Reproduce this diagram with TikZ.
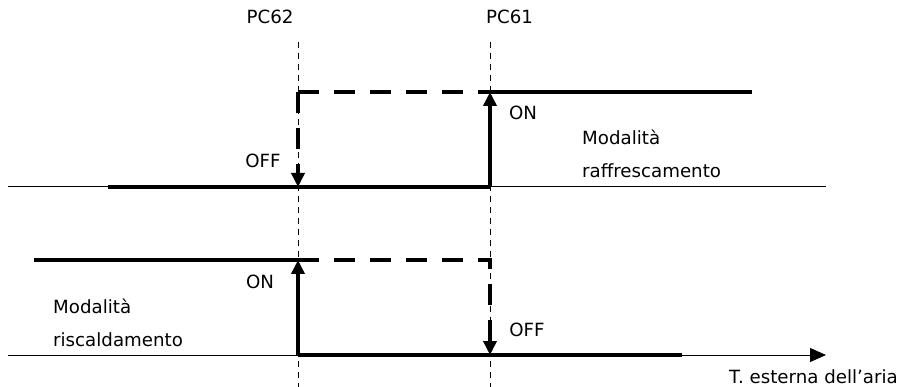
\documentclass[tikz,border=0pt]{standalone}
\usepackage{fontspec}
\setmainfont{DejaVu Sans}
\usetikzlibrary{arrows.meta}

\begin{document}
\begin{tikzpicture}
	[x=1pt,y=-1pt,every node/.style={inner sep=0pt,font=\fontsize{18.2}{21}\selectfont},
	 axisline/.style={line width=1pt,color=black},
	 stateline/.style={line width=4pt,color=black},
	 guideline/.style={line width=1pt,color=black,dash pattern=on 6pt off 5pt},
	 switchline/.style={line width=4pt,color=black,dash pattern=on 21pt off 15pt},
	 uptip/.style={-{Triangle[length=14pt,width=13pt]}},
	 axistip/.style={-{Triangle[length=16pt,width=14pt]}}]
	\useasboundingbox (0,0) rectangle (902,387);
	% soglie
	\node (pc62) at (270,17) {PC62};
	\node (pc61) [anchor=west] at (486,17) {PC61};
	\coordinate (g62a) at (298,42);
	\coordinate (g62b) at (298,387);
	\coordinate (g61a) at (490,42);
	\coordinate (g61b) at (490,387);
	\draw [guideline] (g62a) to (g62b);
	\draw [guideline] (g61a) to (g61b);
	% raffrescamento
	\coordinate (ua) at (8,187);
	\coordinate (ub) at (826,187);
	\coordinate (u1) at (108,187);
	\coordinate (u2) at (298,187);
	\coordinate (u3) at (490,187);
	\coordinate (u4) at (298,92);
	\coordinate (u5) at (490,92);
	\coordinate (u6) at (752,92);
	\draw [axisline] (ua) to (ub);
	\draw [stateline] (u1) to (u3);
	\draw [stateline,uptip] (u3) to (u5);
	\draw [stateline] (u5) to (u6);
	\draw [switchline] (u4) to (u5);
	\draw [switchline,uptip] (u4) to (u2);
	\node (uoff) at (263,161) {OFF};
	\node (uon) at (523,113) {ON};
	\node (umod) [anchor=base west] at (582,145) {Modalità};
	\node (uraf) [anchor=base west] at (582,178) {raffrescamento};
	% riscaldamento
	\coordinate (la) at (8,355);
	\coordinate (lb) at (826,355);
	\coordinate (l1) at (34,260);
	\coordinate (l2) at (298,260);
	\coordinate (l3) at (490,260);
	\coordinate (l4) at (298,355);
	\coordinate (l5) at (490,355);
	\coordinate (l6) at (682,355);
	\draw [axisline,axistip] (la) to (lb);
	\draw [stateline] (l1) to (l2);
	\draw [stateline,uptip] (l4) to (l2);
	\draw [stateline] (l4) to (l6);
	\draw [switchline,uptip] (l2) -- (l3) -- (l5);
	\node (lon) at (260,282) {ON};
	\node (loff) at (527,330) {OFF};
	\node (lmod) [anchor=base west] at (53,313) {Modalità};
	\node (lris) [anchor=base west] at (53,346) {riscaldamento};
	\node (taria) [anchor=base east] at (898,383) {T. esterna dell’aria};
\end{tikzpicture}
\end{document}
